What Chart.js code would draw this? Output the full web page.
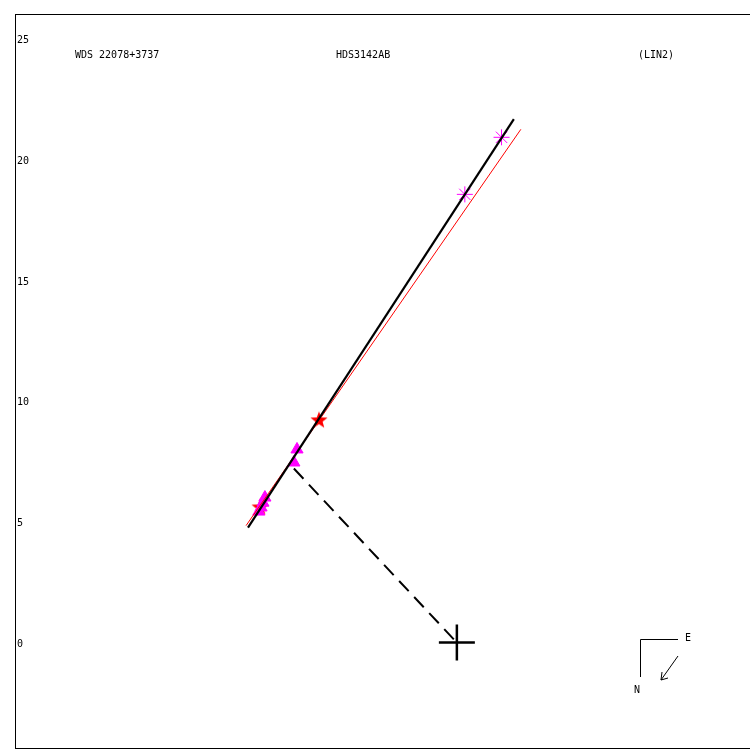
<!DOCTYPE html>
<html>
<head>
<meta charset="utf-8">
<script src="https://cdn.jsdelivr.net/npm/chart.js@4"></script>
<style>
  html, body { margin: 0; padding: 0; background: #fff; }
</style>
</head>
<body>
<canvas id="orbit" width="750" height="750"></canvas>
<script>
// measurements (triangles, asterisks, stars)
const triX = [-6.62, -6.75, -7.95, -8.03, -8.11, -8.20];
const triY = [7.99, 7.45, 6.00, 5.79, 5.59, 5.42];
const asterX = [0.33, 1.85];
const asterY = [18.54, 20.90];
const starX = [-5.71, -8.15];
const starY = [9.19, 5.59];

// fitted lines
const fitX = [-8.65, 2.36];
const fitY = [4.76, 21.65];
const refX = [-8.73, 2.65];
const refY = [4.84, 21.23];
const perpX = [-6.75, 0];
const perpY = [7.2, 0];
const primX = [0];
const primY = [0];

const yTicks = [0, 5, 10, 15, 20, 25];
const labels = ['WDS 22078+3737', 'HDS3142AB', '(LIN2)'];

const FONT = '10px "DejaVu Sans Mono", monospace';

const pts = (xs, ys) => xs.map((x, i) => ({ x: x, y: ys[i] }));

// filled 5 point star glyph for pointStyle
const makeStar = (r, color) => {
    const c = document.createElement('canvas');
    c.width = c.height = r * 2 + 2;
    const g = c.getContext('2d');
    g.fillStyle = color;
    g.beginPath();
    for (let i = 0; i < 10; i++) {
        const rad = i % 2 === 0 ? r : r * 0.42;
        const a = -Math.PI / 2 + i * Math.PI / 5;
        const px = r + 1 + rad * Math.cos(a);
        const py = r + 1 + rad * Math.sin(a);
        if (i === 0) g.moveTo(px, py); else g.lineTo(px, py);
    }
    g.closePath();
    g.fill();
    return c;
};

const decor = {
    id: 'decor',
    afterDraw(chart) {
        const ctx = chart.ctx;
        const a = chart.chartArea;
        const yScale = chart.scales.y;
        ctx.save();
        // frame
        ctx.strokeStyle = '#000';
        ctx.lineWidth = 1;
        ctx.strokeRect(a.left + 0.5, a.top + 0.5, a.right - a.left, a.bottom - a.top - 1);
        ctx.fillStyle = '#000';
        ctx.font = FONT;
        ctx.textBaseline = 'middle';
        ctx.textAlign = 'left';
        // y tick labels, inside the frame
        yTicks.forEach(v => {
            ctx.fillText(String(v), a.left + 2, yScale.getPixelForValue(v) + 2);
        });
        // header labels
        ctx.fillText(labels[0], 75, 55);
        ctx.fillText(labels[1], 336, 55);
        ctx.fillText(labels[2], 638, 55);
        // compass
        ctx.beginPath();
        ctx.moveTo(678, 639.5);
        ctx.lineTo(640.5, 639.5);
        ctx.lineTo(640.5, 677);
        ctx.stroke();
        ctx.fillText('E', 685, 638);
        ctx.fillText('N', 634, 690);
        ctx.beginPath();
        ctx.moveTo(678, 656);
        ctx.lineTo(661, 680);
        ctx.moveTo(661, 680);
        ctx.lineTo(662, 672);
        ctx.moveTo(661, 680);
        ctx.lineTo(668, 678);
        ctx.stroke();
        ctx.restore();
    }
};

const ctx = document.getElementById('orbit').getContext('2d');
const orbitChart = new Chart(ctx, {
    type: 'scatter',
    data: {
        datasets: [
            {
                label: 'fit',
                data: pts(fitX, fitY),
                showLine: true,
                borderColor: '#000',
                borderWidth: 2.2,
                pointRadius: 0
            },
            {
                label: 'ref',
                data: pts(refX, refY),
                showLine: true,
                borderColor: '#ff0000',
                borderWidth: 1,
                pointRadius: 0
            },
            {
                label: 'perp',
                data: pts(perpX, perpY),
                showLine: true,
                borderColor: '#000',
                borderWidth: 2,
                borderDash: [14, 8],
                pointRadius: 0
            },
            {
                label: 'tri',
                data: pts(triX, triY),
                pointStyle: 'triangle',
                pointRadius: 7,
                backgroundColor: '#ff00ff',
                borderColor: '#ff00ff',
                borderWidth: 1
            },
            {
                label: 'stars',
                data: pts(starX, starY),
                pointStyle: makeStar(9, '#ff0000')
            },
            {
                label: 'aster',
                data: pts(asterX, asterY),
                pointStyle: 'star',
                pointRadius: 8,
                borderColor: '#ff00ff',
                borderWidth: 1
            },
            {
                label: 'primary',
                data: pts(primX, primY),
                pointStyle: 'cross',
                pointRadius: 18,
                borderColor: '#000',
                borderWidth: 2.5
            }
        ]
    },
    options: {
        responsive: false,
        animation: false,
        devicePixelRatio: 1,
        layout: { autoPadding: false, padding: { left: 15, top: 14, right: 0, bottom: 1 } },
        plugins: {
            legend: { display: false },
            tooltip: { enabled: false }
        },
        scales: {
            x: {
                type: 'linear',
                display: false,
                min: -18.3,
                max: 12.14
            },
            y: {
                type: 'linear',
                display: false,
                min: -4.4,
                max: 26
            }
        }
    },
    plugins: [decor]
});
</script>
</body>
</html>
